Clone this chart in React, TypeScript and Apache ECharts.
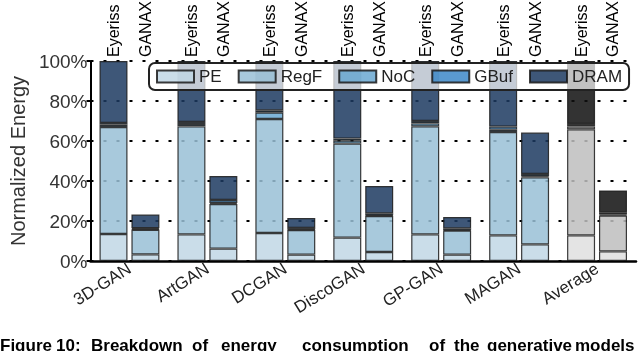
import React, { useEffect, useRef } from "react";
import * as echarts from "echarts";

const categories = ["3D-GAN", "ArtGAN", "DCGAN", "DiscoGAN", "GP-GAN", "MAGAN", "Average"];
const layers = ["PE", "RegF", "NoC", "GBuf", "DRAM"];
const yTicks = [0, 20, 40, 60, 80, 100];

const eyerissPE = [13.5, 13.3, 14.0, 11.7, 13.3, 12.8, 12.8];
const eyerissRegF = [53.5, 54.0, 57.0, 47.0, 54.0, 51.7, 53.0];
const eyerissNoC = [1.2, 1.2, 3.2, 1.5, 1.5, 1.2, 1.5];
const eyerissGBuf = [0.8, 1.0, 1.1, 1.0, 1.2, 1.5, 1.2];
const eyerissDRAM = [31.0, 30.5, 24.7, 38.8, 30.0, 32.8, 31.5];

const ganaxPE = [3.3, 6.2, 3.2, 4.5, 3.2, 8.3, 4.8];
const ganaxRegF = [12.3, 22.3, 12.3, 18.0, 12.0, 33.5, 17.9];
const ganaxNoC = [0.3, 0.5, 0.3, 0.3, 0.3, 0.5, 0.5];
const ganaxGBuf = [0.5, 1.5, 0.7, 1.0, 0.8, 1.2, 1.2];
const ganaxDRAM = [6.8, 12.0, 5.0, 13.7, 5.7, 20.7, 10.9];

const caption = ["Figure", "10:", "Breakdown", "of", "energy", "consumption", "of", "the", "generative", "models"];
const captionX = [0, 56, 91, 192, 221, 302, 429, 454, 487, 575];

const blueColors = ["#c1d7e5", "#99c0d6", "#6aa8d1", "#3d88c8", "#1c3a60"];
const grayColors = ["#dfdfdf", "#bebebe", "#9b9b9b", "#7a7a7a", "#0f0f0f"];

export default function App() {
  const ref = useRef<HTMLDivElement>(null);
  useEffect(() => {
    if (!ref.current) return;
    const chart = echarts.init(ref.current, null, { renderer: "svg" });
    const eyeriss = [eyerissPE, eyerissRegF, eyerissNoC, eyerissGBuf, eyerissDRAM];
    const ganax = [ganaxPE, ganaxRegF, ganaxNoC, ganaxGBuf, ganaxDRAM];
    const lastIdx = categories.length - 1;

    const makeLayer = (vals: number[], li: number, stack: string) => ({
      name: layers[li],
      type: "bar",
      stack,
      barWidth: 28,
      barGap: "14%",
      itemStyle: {
        color: blueColors[li],
        borderColor: "#1a1a1a",
        borderWidth: 1.2,
        opacity: 0.85,
      },
      data: vals.map((v, i) =>
        i === lastIdx ? { value: v, itemStyle: { color: grayColors[li] } } : v
      ),
    });

    const cap = (groups: number[][], stack: string, text: string) => ({
      name: "cap" + stack,
      type: "bar",
      stack,
      barWidth: 28,
      barGap: "14%",
      itemStyle: { color: "rgba(0,0,0,0)", borderWidth: 0 },
      label: {
        show: true,
        position: "top",
        distance: 4,
        rotate: 90,
        align: "left",
        verticalAlign: "middle",
        formatter: text,
        fontFamily: "Liberation Sans",
        fontSize: 16,
        color: "#000",
      },
      data: categories.map((_, i) => {
        const s = groups.reduce((a, g) => a + g[i], 0);
        return Math.max(0, +(100 - s).toFixed(3));
      }),
    });

    const series: any[] = [];
    eyeriss.forEach((vals, li) => series.push(makeLayer(vals, li, "E")));
    series.push(cap(eyeriss, "E", "Eyeriss"));
    ganax.forEach((vals, li) => series.push(makeLayer(vals, li, "G")));
    series.push(cap(ganax, "G", "GANAX"));

    chart.setOption({
      animation: false,
      textStyle: { fontFamily: "Liberation Sans" },
      grid: { left: 72, right: 4, top: 61, bottom: 90, containLabel: false },
      legend: {
        data: layers,
        left: 149,
        top: 63,
        icon: "rect",
        itemWidth: 37,
        itemHeight: 12,
        itemGap: 16,
        padding: [5, 7],
        backgroundColor: "rgba(255,255,255,0.7)",
        borderColor: "#222",
        borderWidth: 2,
        borderRadius: 6,
        textStyle: { fontSize: 17, color: "#222", fontFamily: "Liberation Sans" },
      },
      xAxis: {
        type: "category",
        data: categories,
        axisLine: { lineStyle: { color: "#000", width: 2.5 } },
        axisTick: { show: false },
        axisLabel: {
          rotate: 32,
          interval: 0,
          fontSize: 17,
          color: "#222",
          margin: 6,
          fontFamily: "Liberation Sans",
        },
      },
      yAxis: {
        type: "value",
        min: yTicks[0],
        max: yTicks[yTicks.length - 1],
        interval: 20,
        name: "Normalized Energy",
        nameLocation: "middle",
        nameGap: 52,
        nameTextStyle: { fontSize: 20, color: "#333", fontFamily: "Liberation Sans" },
        axisLine: { show: true, lineStyle: { color: "#000", width: 2 } },
        axisTick: { show: true, length: 4, lineStyle: { color: "#000", width: 2 } },
        axisLabel: {
          formatter: "{value}%",
          fontSize: 19,
          color: "#333",
          margin: 3,
          fontFamily: "Liberation Sans",
        },
        splitLine: {
          show: true,
          lineStyle: { color: "#000", width: 2, type: [3, 10] },
        },
      },
      graphic: caption.map((w, i) => ({
        type: "text",
        left: captionX[i],
        top: 337,
        style: {
          text: w,
          font: "bold 17px 'Liberation Sans'",
          fill: "#000",
        },
      })),
      series,
    });
    return () => chart.dispose();
  }, []);
  return (
    <div
      ref={ref}
      style={{ position: "fixed", left: 0, top: 0, width: 640, height: 351 }}
    />
  );
}
